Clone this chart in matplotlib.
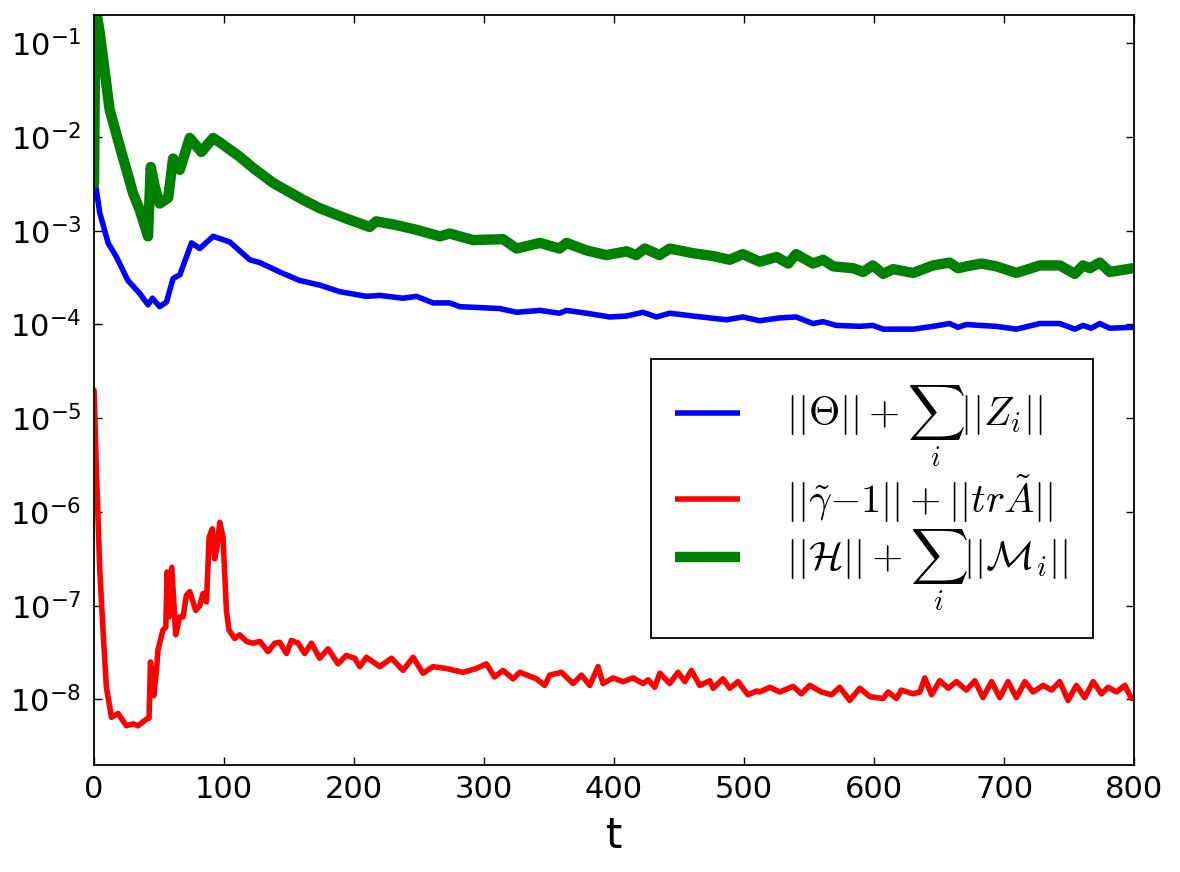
import numpy as np
import matplotlib
matplotlib.use("Agg")
import matplotlib.pyplot as plt
from matplotlib.font_manager import FontProperties

# values, stored as log10 of the norm
green_t = [0, 1, 4.4, 12, 20, 30, 35.2, 41.5, 43.6, 46.7, 50.5, 57, 60.8, 66, 73.6,
           82.6, 91.6, 98, 112, 122.3, 137.7, 160.8, 173.6, 194, 212, 217, 232.6, 248,
           266, 273.6, 291.5, 314.6, 325, 343, 358, 363.4, 378.8, 394, 409.5, 417,
           423.6, 435, 442.8, 460.8, 476, 489, 499, 512, 525, 534, 540, 553, 560.8,
           568.5, 584, 591.5, 599, 607, 614.6, 630, 645.4, 658, 664.6, 671, 682.6, 694,
           709.5, 727.5, 742.8, 754.4, 760.8, 766, 773.6, 781.3, 799]
green_log = [-2.50, -0.60, -0.89, -1.71, -2.11, -2.60, -2.78, -3.06, -2.32, -2.53, -2.71,
             -2.65, -2.23, -2.35, -2.01, -2.16, -2.01, -2.07, -2.21, -2.33, -2.49, -2.67,
             -2.76, -2.87, -2.96, -2.90, -2.94, -2.99, -3.06, -3.03, -3.10, -3.09, -3.19,
             -3.13, -3.19, -3.13, -3.21, -3.26, -3.22, -3.26, -3.19, -3.26, -3.19, -3.24,
             -3.27, -3.31, -3.25, -3.33, -3.28, -3.35, -3.25, -3.35, -3.31, -3.38, -3.40,
             -3.44, -3.37, -3.46, -3.41, -3.45, -3.37, -3.34, -3.40, -3.38, -3.35, -3.38,
             -3.45, -3.37, -3.37, -3.46, -3.37, -3.40, -3.34, -3.44, -3.40]

blue_t = [0, 1, 4.4, 10.8, 17.2, 26, 35.2, 41.5, 44.9, 50.5, 55.7, 60.8, 66, 75, 81.3,
          91.6, 104.4, 119.8, 127.5, 142.8, 158, 173.6, 189, 209.5, 219.8, 237.7, 248,
          260.8, 273.6, 281.3, 312, 325, 343, 358, 363.4, 378.8, 396.7, 409.5, 422.3,
          432.6, 442.8, 460.8, 486.5, 499, 512, 527.5, 540, 553, 560.8, 571, 589, 599,
          607, 630, 645.4, 658, 664.6, 671, 681, 694, 709.5, 727.5, 742.8, 754.4, 760.8,
          767, 773.6, 781.3, 799]
blue_log = [-2.42, -2.49, -2.81, -3.13, -3.28, -3.53, -3.67, -3.79, -3.72, -3.81, -3.76,
            -3.51, -3.47, -3.13, -3.19, -3.06, -3.12, -3.31, -3.34, -3.44, -3.53, -3.58,
            -3.65, -3.70, -3.69, -3.72, -3.70, -3.77, -3.77, -3.81, -3.83, -3.87, -3.85,
            -3.88, -3.85, -3.88, -3.92, -3.91, -3.87, -3.92, -3.88, -3.91, -3.95, -3.92,
            -3.96, -3.93, -3.92, -3.99, -3.97, -4.01, -4.02, -4.01, -4.05, -4.05, -4.02,
            -3.99, -4.03, -4.00, -4.01, -4.02, -4.05, -3.99, -3.99, -4.05, -4.01, -4.04,
            -3.99, -4.04, -4.03]

red_t = [0, 1.8, 4.4, 6.9, 9.5, 13.4, 18.5, 24.9, 30, 33.8, 40.3, 42.3, 43.4, 45.9, 48,
         49.2, 53, 55.2, 56.2, 57.7, 59.8, 62.8, 65.9, 68.5, 71, 73.6, 78.2, 81.3, 83.8,
         86.5, 88.5, 91, 92.8, 94.6, 96.7, 99.2, 101.8, 103.8, 108.2, 112, 117.2, 122.3,
         127.5, 133.8, 139, 142.8, 148, 151.8, 157, 162, 167.2, 173.6, 180, 187.7, 194,
         200.5, 204.4, 209.5, 219.8, 228.8, 237.7, 245.4, 253, 260.8, 271, 283.8, 294,
         301.8, 308, 314.6, 322.3, 327.5, 340.3, 346.7, 350.5, 359.5, 368.5, 374.9, 381.3,
         387.7, 391.5, 399.2, 406.9, 414.6, 422.3, 426.2, 431.3, 435.2, 442.8, 449.2,
         454.4, 459.5, 465.9, 473.6, 476.2, 483.8, 489, 495.4, 503, 509.5, 512, 519.8,
         527.5, 537.7, 544, 550.5, 559.5, 567.2, 573.6, 581.3, 589, 596.7, 606.9, 610.8,
         617.2, 621, 630, 635.2, 639, 644.2, 650.5, 657, 663.4, 671, 677.5, 683.8, 690.3,
         696.7, 703, 709.5, 716, 722.3, 730, 736.5, 742.8, 749.2, 755.6, 762, 768.5,
         774.9, 780, 786.5, 792.9, 798]
red_log = [-4.70, -5.55, -6.62, -7.26, -7.87, -8.19, -8.15, -8.28, -8.26, -8.28, -8.21,
           -8.20, -7.60, -7.96, -7.69, -7.47, -7.26, -7.23, -6.64, -7.12, -6.59, -7.31,
           -7.12, -7.12, -6.89, -6.85, -7.05, -7.00, -6.87, -6.96, -6.27, -6.18, -6.50,
           -6.37, -6.11, -6.27, -7.05, -7.26, -7.35, -7.31, -7.38, -7.40, -7.38, -7.49,
           -7.40, -7.39, -7.51, -7.37, -7.40, -7.51, -7.40, -7.56, -7.46, -7.62, -7.53,
           -7.56, -7.65, -7.55, -7.65, -7.56, -7.69, -7.55, -7.72, -7.65, -7.67, -7.71,
           -7.67, -7.62, -7.76, -7.69, -7.78, -7.71, -7.78, -7.85, -7.74, -7.71, -7.83,
           -7.74, -7.85, -7.65, -7.83, -7.77, -7.81, -7.77, -7.83, -7.79, -7.87, -7.72,
           -7.83, -7.71, -7.81, -7.69, -7.85, -7.80, -7.88, -7.78, -7.88, -7.81, -7.95,
           -7.91, -7.92, -7.87, -7.92, -7.86, -7.94, -7.85, -7.92, -7.95, -7.87, -8.01,
           -7.88, -7.97, -7.99, -7.92, -7.99, -7.90, -7.94, -7.92, -7.77, -7.95, -7.80,
           -7.88, -7.81, -7.90, -7.80, -7.98, -7.81, -7.98, -7.81, -7.98, -7.81, -7.92,
           -7.85, -7.90, -7.81, -8.01, -7.85, -7.98, -7.81, -7.94, -7.87, -7.92, -7.85,
           -7.99]

labels = [r"$||\Theta|| + \sum_i ||Z_i||$",
          r"$||\tilde{\gamma}{-}1|| + ||tr\tilde{A}||$",
          r"$||\mathcal{H}|| + \sum_i ||\mathcal{M}_i||$"]

fig = plt.figure(figsize=(11.8, 8.72), dpi=100)
ax = fig.add_axes([0.0797, 0.1227, 0.8814, 0.8601])

line_kw = dict(solid_joinstyle='round', solid_capstyle='round')
ax.semilogy(blue_t, 10.0 ** np.array(blue_log), color='blue', lw=4, label=labels[0], **line_kw)
ax.semilogy(red_t, 10.0 ** np.array(red_log), color='red', lw=4, label=labels[1], **line_kw)
ax.semilogy(green_t, 10.0 ** np.array(green_log), color='green', lw=7.5, label=labels[2], **line_kw)

ax.set_xlim(0, 800)
ax.set_ylim(2e-9, 2e-1)
ax.set_xticks(np.arange(0, 801, 100))
ax.set_yticks([1e-8, 1e-7, 1e-6, 1e-5, 1e-4, 1e-3, 1e-2, 1e-1])
ax.minorticks_off()
ax.tick_params(which='both', direction='in', top=True, right=True,
               length=6, width=1, labelsize=22)
ax.tick_params(axis='x', pad=7)
ax.tick_params(axis='y', pad=9)
for s in ax.spines.values():
    s.set_linewidth(1.3)

ax.set_xlabel('t', fontsize=30, labelpad=8)

leg_font = FontProperties(size=29, math_fontfamily='cm')
leg = ax.legend(loc='lower right', bbox_to_anchor=(0.9606, 0.169), borderaxespad=0,
                prop=leg_font, fancybox=False, framealpha=1, edgecolor='black',
                handlelength=1.6, handletextpad=1.15, borderpad=0.62, labelspacing=0.08)
leg.get_frame().set_linewidth(1.3)
for h in leg.legend_handles:
    h.set_solid_capstyle('butt')

fig.savefig('out.png', dpi=100)
